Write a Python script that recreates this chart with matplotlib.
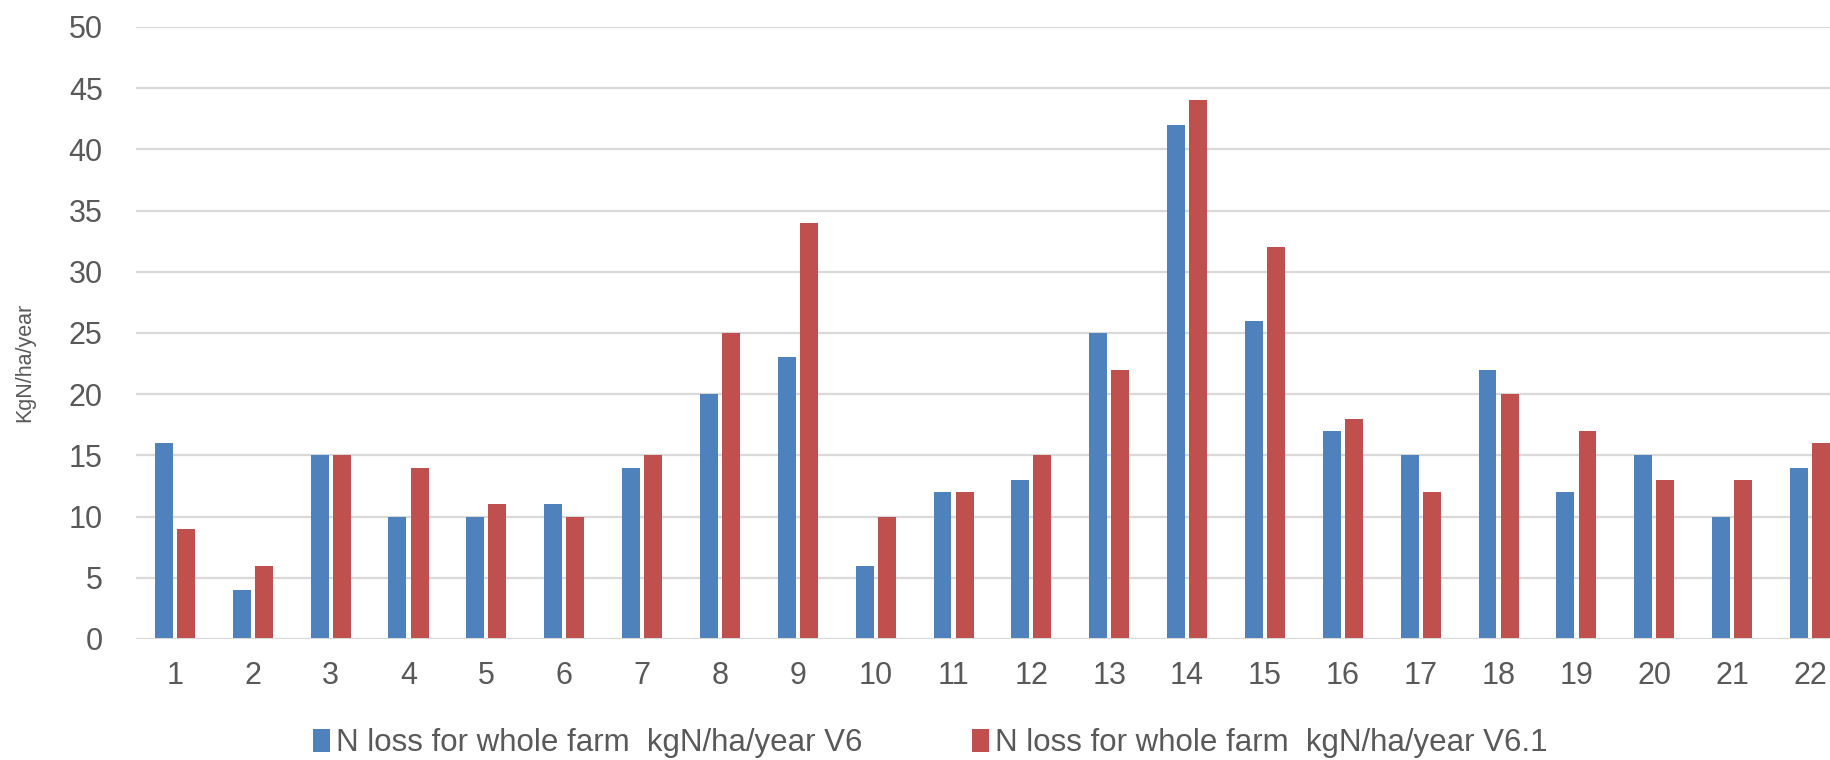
import numpy as np
import matplotlib.pyplot as plt
from matplotlib import font_manager

# N loss per farm, two model versions
farms = [str(i) for i in range(1, 23)]
v6 = [16, 4, 15, 10, 10, 11, 14, 20, 23, 6, 12, 13, 25, 42, 26, 17, 15, 22, 12, 15, 10, 14]
v61 = [9, 6, 15, 14, 11, 10, 15, 25, 34, 10, 12, 15, 22, 44, 32, 18, 12, 20, 17, 13, 13, 16]
yticks = list(range(0, 51, 5))

blue = '#4F81BD'
red = '#C0504D'
grey_txt = '#595959'

plt.rcParams['font.family'] = ['Liberation Sans', 'DejaVu Sans']

# narrow face for the y label if it is there
names = {f.name for f in font_manager.fontManager.ttflist}
if 'Liberation Sans Narrow' in names:
    ylab_font, ylab_size = 'Liberation Sans Narrow', 18
else:
    ylab_font, ylab_size = 'Liberation Sans', 15.5

fig = plt.figure(figsize=(18.31, 7.6), dpi=100)
ax = fig.add_axes([136 / 1831, 121 / 760, 1 - 136 / 1831, 612 / 760])

x = np.arange(1, len(farms) + 1)
w = 0.23
off = 0.142
ax.bar(x - off, v6, w, color=blue, label='N loss for whole farm  kgN/ha/year V6', zorder=3)
ax.bar(x + off, v61, w, color=red, label='N loss for whole farm  kgN/ha/year V6.1', zorder=3)

ax.set_xlim(0.5, 22.27)
ax.set_ylim(0, 50)
ax.set_yticks(yticks)
ax.set_xticks(x)
ax.set_xticklabels(farms)
ax.yaxis.grid(True, color='#D9D9D9', linewidth=1.6, zorder=0)
ax.axhline(0, color='#D9D9D9', linewidth=2.2, zorder=4)
for s in ax.spines.values():
    s.set_visible(False)
ax.tick_params(length=0, labelsize=22, colors=grey_txt)
ax.tick_params(axis='y', pad=24)
ax.tick_params(axis='x', pad=16)

fig.text(25 / 1831, 1 - 362 / 760, 'KgN/ha/year', rotation=90, fontsize=ylab_size,
         color=grey_txt, family=[ylab_font, 'DejaVu Sans'], ha='center', va='center')

leg = fig.legend(loc='center', bbox_to_anchor=(0.508, 1 - 743 / 760), ncol=2,
                 frameon=False, fontsize=22.5, handlelength=0.55, handleheight=0.75,
                 handletextpad=0.2, columnspacing=3.5, labelcolor=grey_txt)

fig.savefig('out.png', dpi=100)
